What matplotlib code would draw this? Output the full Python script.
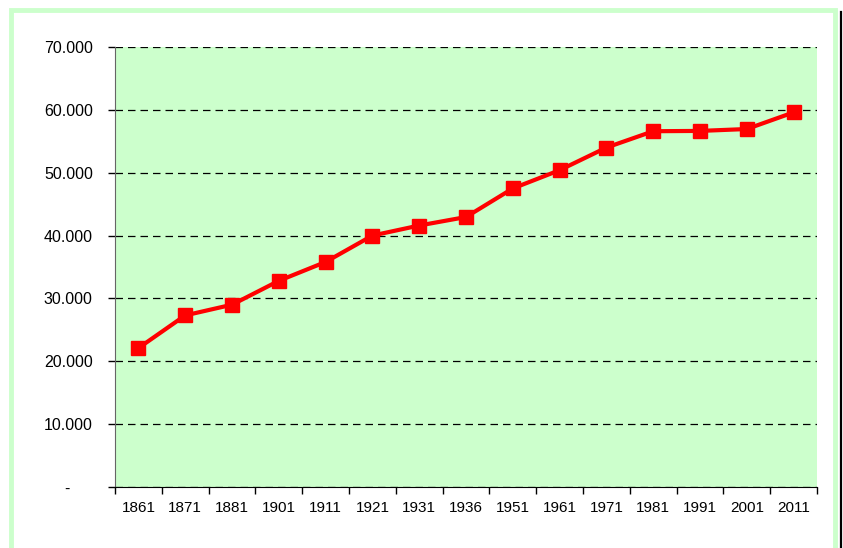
#!/usr/bin/env python3

# Population by census year, line chart with square markers

import numpy as np
from matplotlib import pyplot as plt
from matplotlib.patches import Rectangle
from matplotlib.lines import Line2D
from matplotlib.ticker import FuncFormatter
import matplotlib

params = {
    'font.family': 'Liberation Sans',
    'font.size': 11,
    'xtick.labelsize': 11,
    'ytick.labelsize': 11.5,
}
matplotlib.rcParams.update(params)

years = ['1861', '1871', '1881', '1901', '1911', '1921', '1931', '1936',
         '1951', '1961', '1971', '1981', '1991', '2001', '2011']
population = [22100, 27300, 29000, 32800, 35800, 40000, 41600, 42950,
              47500, 50400, 54000, 56600, 56650, 56950, 59600]
yticks = [0, 10000, 20000, 30000, 40000, 50000, 60000, 70000]

W, H = 843, 548
fig = plt.figure(figsize=(W / 100, H / 100), dpi=100)

# outer light green frame and dark shadow line
fig.patches.append(Rectangle((10.5 / W, -0.1), 824 / W, 1.1 - 10.5 / H,
                             transform=fig.transFigure, fill=False,
                             edgecolor='#ccffcc', linewidth=3.5))
fig.lines.append(Line2D([841 / W, 841 / W], [0, 1 - 12 / H],
                        transform=fig.transFigure, color='black', linewidth=1.6))

ax = fig.add_axes([115 / W, (H - 487) / H, 702 / W, 440 / H])
ax.set_facecolor('#ccffcc')

x = np.arange(len(years))
ax.plot(x, population, color='#ff0000', linewidth=3, marker='s',
        markersize=10, markeredgecolor='#ff0000', zorder=4, clip_on=False)

ax.set_xlim(-0.5, len(years) - 0.5)
ax.set_ylim(0, 70000)

# category boundaries as ticks, labels in the middle
ax.set_xticks(np.arange(len(years) + 1) - 0.5)
ax.set_xticklabels([])
ax.set_xticks(x, minor=True)
ax.set_xticklabels(years, minor=True)
ax.tick_params(axis='x', which='major', length=5, width=1, direction='out')
ax.tick_params(axis='x', which='minor', length=0, pad=10)

# accounting style: zero shown as a dash, set in from the right
ax.set_yticks(yticks)
ax.yaxis.set_major_formatter(FuncFormatter(
    lambda v, p: '-     ' if v == 0 else '{:,.0f}'.format(v).replace(',', '.')))
ax.tick_params(axis='y', length=5, width=1, direction='out', pad=11, colors='black')

ax.yaxis.grid(True, linestyle=(0, (6, 4)), color='black', linewidth=0.9)
ax.set_axisbelow(True)

for s in ['top', 'right']:
    ax.spines[s].set_visible(False)
ax.spines['left'].set_color('#666666')
ax.spines['bottom'].set_color('black')

plt.savefig('out.png', dpi=100)
